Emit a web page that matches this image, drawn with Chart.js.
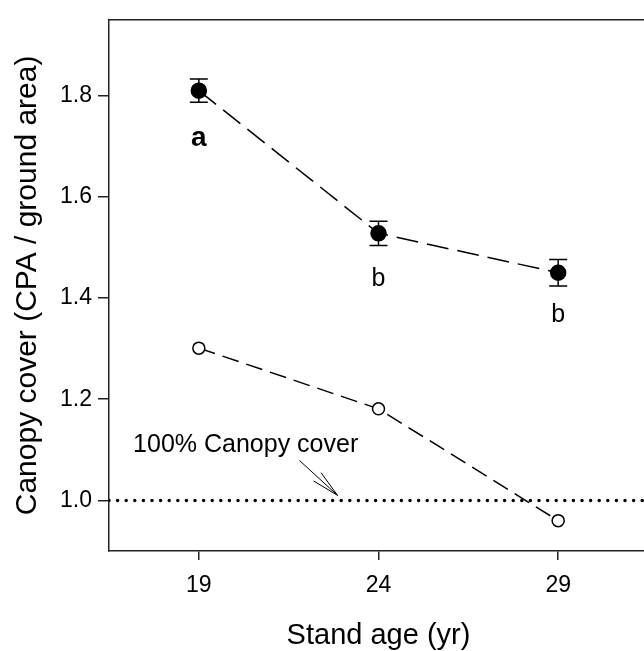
<!DOCTYPE html>
<html>
<head>
<meta charset="utf-8">
<script src="https://cdn.jsdelivr.net/npm/chart.js@4.4.1/dist/chart.umd.min.js"></script>
<style>
  html, body { margin: 0; padding: 0; background: #fff; overflow: hidden; }
  #wrap { width: 657px; height: 651px; }
</style>
</head>
<body>
<div id="wrap"><canvas id="cover-chart" width="657" height="651"></canvas></div>
<script>
// Stand ages (yr)
var ages = [19, 24, 29];
// Filled circles: canopy cover with error bars
var coverFilled = [1.81, 1.528, 1.45];
var coverFilledErr = [0.023, 0.024, 0.026];
// Open circles
var coverOpen = [1.301, 1.181, 0.96];
// Significance letters and where they sit (y in data units)
var letters = ['a', 'b', 'b'];
var letterY = [1.70, 1.424, 1.352];
// Axis ticks
var xTicks = [19, 24, 29];
var yTicks = [1.0, 1.2, 1.4, 1.6, 1.8];
// 100% canopy cover reference
var refValue = 1.0;
var refLabel = '100% Canopy cover';

var FONT = 'Arial, "Liberation Sans", sans-serif';
var AXIS = '#222';

function pts(xs, ys) {
  return xs.map(function (x, i) { return { x: x, y: ys[i] }; });
}

// extras: frame, error bars, letters, arrow note
var extras = {
  id: 'extras',
  afterDatasetsDraw: function (chart) {
    var ctx = chart.ctx;
    var xs = chart.scales.x, ys = chart.scales.y;
    var a = chart.chartArea;
    ctx.save();

    // top and right frame
    ctx.strokeStyle = AXIS;
    ctx.lineWidth = 1.5;
    ctx.beginPath();
    ctx.moveTo(a.left, a.top);
    ctx.lineTo(a.right, a.top);
    ctx.lineTo(a.right, a.bottom);
    ctx.stroke();

    // error bars
    ctx.strokeStyle = '#000';
    ctx.lineWidth = 1.5;
    ages.forEach(function (age, i) {
      var px = xs.getPixelForValue(age);
      var y1 = ys.getPixelForValue(coverFilled[i] + coverFilledErr[i]);
      var y2 = ys.getPixelForValue(coverFilled[i] - coverFilledErr[i]);
      ctx.beginPath();
      ctx.moveTo(px, y1); ctx.lineTo(px, y2);
      ctx.moveTo(px - 9, y1); ctx.lineTo(px + 9, y1);
      ctx.moveTo(px - 9, y2); ctx.lineTo(px + 9, y2);
      ctx.stroke();
    });

    // letters
    ctx.fillStyle = '#000';
    ctx.textAlign = 'center';
    ctx.textBaseline = 'alphabetic';
    letters.forEach(function (l, i) {
      ctx.font = (i === 0 ? 'bold 28px ' : '25px ') + FONT;
      ctx.fillText(l, xs.getPixelForValue(ages[i]), ys.getPixelForValue(letterY[i]));
    });

    // reference note + arrow
    ctx.font = '25px ' + FONT;
    ctx.textAlign = 'left';
    ctx.fillText(refLabel, xs.getPixelForValue(17.17), ys.getPixelForValue(1.096));

    var sx = xs.getPixelForValue(21.8), sy = ys.getPixelForValue(1.079);
    var tx = xs.getPixelForValue(22.86), ty = ys.getPixelForValue(1.01);
    var ang = Math.atan2(ty - sy, tx - sx);
    ctx.lineWidth = 1;
    ctx.beginPath();
    ctx.moveTo(sx, sy); ctx.lineTo(tx, ty);
    ctx.moveTo(tx, ty); ctx.lineTo(tx - 28 * Math.cos(ang - 0.2), ty - 28 * Math.sin(ang - 0.2));
    ctx.moveTo(tx, ty); ctx.lineTo(tx - 28 * Math.cos(ang + 0.2), ty - 28 * Math.sin(ang + 0.2));
    ctx.stroke();

    ctx.restore();
  }
};

var ctx = document.getElementById('cover-chart').getContext('2d');

var chart = new Chart(ctx, {
  type: 'line',
  data: {
    datasets: [
      {
        data: pts([16.5, 31.5], [refValue, refValue]),
        borderColor: '#000',
        borderWidth: 3.5,
        borderDash: [0, 8.6],
        borderCapStyle: 'round',
        pointRadius: 0
      },
      {
        data: pts(ages, coverFilled),
        borderColor: '#000',
        borderWidth: 1.5,
        borderDash: [22, 9],
        pointRadius: 7.5,
        pointBackgroundColor: '#000',
        pointBorderColor: '#000'
      },
      {
        data: pts(ages, coverOpen),
        borderColor: '#000',
        borderWidth: 1.5,
        borderDash: [17, 8],
        pointRadius: 6,
        pointBorderWidth: 1.5,
        pointBackgroundColor: '#fff',
        pointBorderColor: '#000'
      }
    ]
  },
  options: {
    responsive: false,
    animation: false,
    devicePixelRatio: 1,
    layout: { padding: { top: 12, right: 4, left: 0, bottom: 0 } },
    plugins: {
      legend: { display: false },
      tooltip: { enabled: false }
    },
    scales: {
      x: {
        type: 'linear',
        min: 16.5,
        max: 31.5,
        afterBuildTicks: function (s) { s.ticks = xTicks.map(function (v) { return { value: v }; }); },
        afterFit: function (s) { s.height = 100; },
        ticks: { color: '#000', font: { family: FONT, size: 23 }, padding: 12 },
        grid: { drawOnChartArea: false, drawTicks: true, tickLength: 9, color: AXIS, lineWidth: 1.5 },
        border: { display: true, color: AXIS, width: 1.5 },
        title: {
          display: true,
          text: 'Stand age (yr)',
          color: '#000',
          font: { family: FONT, size: 29, lineHeight: 1 },
          padding: { top: 0, bottom: 1 }
        }
      },
      y: {
        min: 0.9,
        max: 1.95,
        afterBuildTicks: function (s) { s.ticks = yTicks.map(function (v) { return { value: v }; }); },
        afterFit: function (s) { s.width = 109; },
        ticks: {
          color: '#000',
          font: { family: FONT, size: 23 },
          padding: 6,
          callback: function (v) { return v.toFixed(1); }
        },
        grid: { drawOnChartArea: false, drawTicks: true, tickLength: 11, color: AXIS, lineWidth: 1.5 },
        border: { display: true, color: AXIS, width: 1.5 },
        title: {
          display: true,
          text: 'Canopy cover (CPA / ground area)',
          color: '#000',
          font: { family: FONT, size: 30, lineHeight: 1 },
          padding: { top: 13, bottom: 0 }
        }
      }
    }
  },
  plugins: [extras]
});
</script>
</body>
</html>
